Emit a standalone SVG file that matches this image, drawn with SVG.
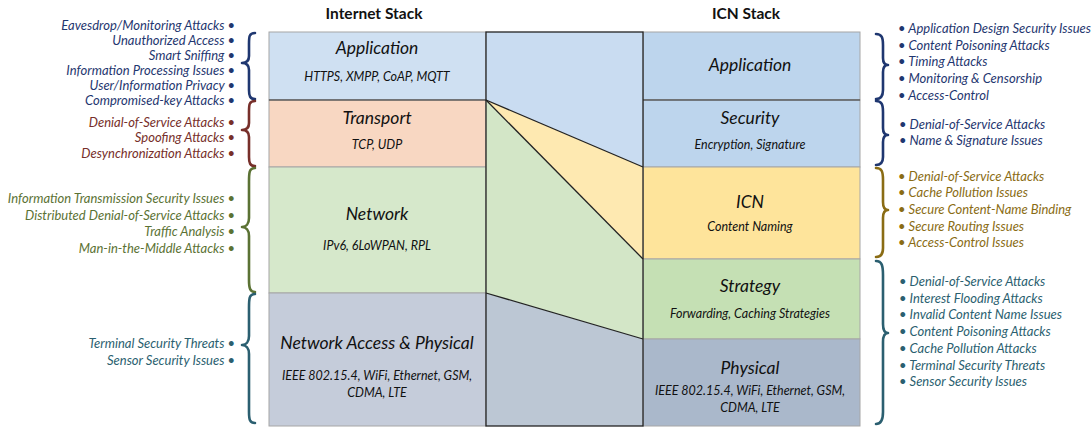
<svg xmlns="http://www.w3.org/2000/svg" width="1092" height="428" viewBox="0 0 1092 428">
<style>
text{font-family:Lato,"Liberation Sans",sans-serif;}
.hd{font-weight:bold;font-size:15.5px;fill:#111;text-anchor:middle;}
.lbl{font-style:italic;font-size:17.5px;fill:#111;text-anchor:middle;}
.sub{font-style:italic;font-size:12.5px;fill:#111;text-anchor:middle;}
.li{font-style:italic;font-size:13px;text-anchor:end;}
.ri{font-style:italic;font-size:13px;text-anchor:start;}
.blue{fill:#1f3770;}
.red{fill:#772f2a;}
.grn{fill:#5b7234;}
.teal{fill:#2b5f70;}
.gold{fill:#8a6c14;}
.box{stroke:#a6a6a6;stroke-width:1;}
.dk{stroke:#222;stroke-width:1.3;fill:none;}
.br{fill:none;stroke-width:2.6;stroke-linecap:round;stroke-linejoin:round;}
</style>

<text class="hd" x="374" y="19">Internet Stack</text>
<text class="hd" x="746" y="19">ICN Stack</text>

<g id="inet-application"><rect class="box" x="269" y="32" width="217" height="68" fill="#cfe0f2"/><text class="lbl" x="377" y="54">Application</text><text class="sub" x="377" y="81">HTTPS, XMPP, CoAP, MQTT</text></g>
<g id="inet-transport"><rect class="box" x="269" y="100" width="217" height="67" fill="#f8d7c2"/><text class="lbl" x="377" y="124">Transport</text><text class="sub" x="377" y="149">TCP, UDP</text></g>
<g id="inet-network"><rect class="box" x="269" y="167" width="217" height="126" fill="#d6e8cb"/><text class="lbl" x="377" y="220">Network</text><text class="sub" x="377" y="250">IPv6, 6LoWPAN, RPL</text></g>
<g id="inet-physical"><rect class="box" x="269" y="293" width="217" height="133" fill="#c5ccda"/><text class="lbl" x="377" y="349">Network Access &amp; Physical</text><text class="sub" x="377" y="380">IEEE 802.15.4, WiFi, Ethernet, GSM,</text><text class="sub" x="377" y="397">CDMA, LTE</text></g>
<line x1="269" y1="100" x2="486" y2="100" stroke="#333" stroke-width="1"/>

<g id="icn-application"><rect class="box" x="643" y="32" width="217" height="68" fill="#bdd5ed"/><text class="lbl" x="750" y="71">Application</text></g>
<g id="icn-security"><rect class="box" x="643" y="100" width="217" height="67" fill="#bdd5ed"/><text class="lbl" x="750" y="124">Security</text><text class="sub" x="750" y="149">Encryption, Signature</text></g>
<g id="icn-icn"><rect class="box" x="643" y="167" width="217" height="92" fill="#fee49b"/><text class="lbl" x="750" y="208">ICN</text><text class="sub" x="750" y="231">Content Naming</text></g>
<g id="icn-strategy"><rect class="box" x="643" y="259" width="217" height="80" fill="#c5e0b4"/><text class="lbl" x="750" y="292">Strategy</text><text class="sub" x="750" y="318">Forwarding, Caching Strategies</text></g>
<g id="icn-physical"><rect class="box" x="643" y="339" width="217" height="87" fill="#aab8cb"/><text class="lbl" x="750" y="374">Physical</text><text class="sub" x="750" y="395">IEEE 802.15.4, WiFi, Ethernet, GSM,</text><text class="sub" x="750" y="412">CDMA, LTE</text></g>
<line x1="643" y1="100" x2="860" y2="100" stroke="#333" stroke-width="1"/>

<g id="connectors">
<polygon points="486,32 643,32 643,167 486,100" fill="#c9dcf1"/>
<polygon points="486,100 643,167 643,259" fill="#fee9b1"/>
<polygon points="486,100 643,259 643,339 486,293" fill="#d3e6c7"/>
<polygon points="486,293 643,339 643,426 486,426" fill="#bcc7d4"/>
<line class="dk" x1="486" y1="100" x2="643" y2="167"/>
<line class="dk" x1="486" y1="100" x2="643" y2="259"/>
<line class="dk" x1="486" y1="293" x2="643" y2="339"/>
<rect class="dk" x="486" y="32" width="157" height="394"/>
</g>

<g id="left-braces">
<path class="br" stroke="#1f3770" d="M255,33 C249,33 249,37 249,44 L249,56 C249,61 246,63 242,63 C246,63 249,65 249,70 L249,90 C249,96 250,99 255,99"/>
<path class="br" stroke="#772f2a" d="M255,101 C249,101 249,105 249,112 L249,123 C249,128 246,130 242,130 C246,130 249,132 249,137 L249,157 C249,163 250,166 255,166"/>
<path class="br" stroke="#5b7234" d="M255,168 C249,168 249,173 249,182 L249,218 C249,224 246,227 242,227 C246,227 249,230 249,236 L249,280 C249,288 250,292 255,292"/>
<path class="br" stroke="#2b5f70" d="M255,294 C249,294 249,299 249,308 L249,336 C249,342 246,345 242,345 C246,345 249,348 249,354 L249,412 C249,420 250,423 255,423"/>
</g>
<g id="right-braces">
<path class="br" stroke="#1f3770" d="M876,34 C882,34 883,38 883,45 L883,58 C883,63 885,65 888,65 C885,65 883,67 883,72 L883,90 C883,96 881,99 876,99"/>
<path class="br" stroke="#1f3770" d="M876,101 C882,101 883,105 883,112 L883,128 C883,133 885,135 888,135 C885,135 883,137 883,142 L883,157 C883,162 881,165 876,165"/>
<path class="br" stroke="#8a6c14" d="M876,168 C882,168 883,172 883,180 L883,202 C883,207 885,210 888,210 C885,210 883,213 883,218 L883,248 C883,254 881,257 876,257"/>
<path class="br" stroke="#2b5f70" d="M876,261 C882,261 883,266 883,275 L883,324 C883,330 885,333 888,333 C885,333 883,336 883,342 L883,412 C883,420 881,424 876,424"/>
</g>

<g id="left-issues">
<text class="li blue" x="235" y="30">Eavesdrop/Monitoring Attacks •</text>
<text class="li blue" x="235" y="45">Unauthorized Access •</text>
<text class="li blue" x="235" y="60">Smart Sniffing •</text>
<text class="li blue" x="235" y="75">Information Processing Issues •</text>
<text class="li blue" x="235" y="90">User/Information Privacy •</text>
<text class="li blue" x="235" y="105">Compromised-key Attacks •</text>
<text class="li red" x="235" y="127">Denial-of-Service Attacks •</text>
<text class="li red" x="235" y="142">Spoofing Attacks •</text>
<text class="li red" x="235" y="158">Desynchronization Attacks •</text>
<text class="li grn" x="235" y="203">Information Transmission Security Issues •</text>
<text class="li grn" x="235" y="219.5">Distributed Denial-of-Service Attacks •</text>
<text class="li grn" x="235" y="236">Traffic Analysis •</text>
<text class="li grn" x="235" y="252.5">Man-in-the-Middle Attacks •</text>
<text class="li teal" x="235" y="348">Terminal Security Threats •</text>
<text class="li teal" x="235" y="365">Sensor Security Issues •</text>
</g>

<g id="right-issues">
<text class="ri blue" x="898" y="33">• Application Design Security Issues</text>
<text class="ri blue" x="898" y="50">• Content Poisoning Attacks</text>
<text class="ri blue" x="898" y="66">• Timing Attacks</text>
<text class="ri blue" x="898" y="83">• Monitoring &amp; Censorship</text>
<text class="ri blue" x="898" y="100">• Access-Control</text>
<text class="ri blue" x="899" y="129">• Denial-of-Service Attacks</text>
<text class="ri blue" x="899" y="145">• Name &amp; Signature Issues</text>
<text class="ri gold" x="898" y="181">• Denial-of-Service Attacks</text>
<text class="ri gold" x="898" y="197">• Cache Pollution Issues</text>
<text class="ri gold" x="898" y="214">• Secure Content-Name Binding</text>
<text class="ri gold" x="898" y="231">• Secure Routing Issues</text>
<text class="ri gold" x="898" y="247">• Access-Control Issues</text>
<text class="ri teal" x="899" y="286">• Denial-of-Service Attacks</text>
<text class="ri teal" x="899" y="302.5">• Interest Flooding Attacks</text>
<text class="ri teal" x="899" y="319">• Invalid Content Name Issues</text>
<text class="ri teal" x="899" y="336">• Content Poisoning Attacks</text>
<text class="ri teal" x="899" y="353">• Cache Pollution Attacks</text>
<text class="ri teal" x="899" y="370">• Terminal Security Threats</text>
<text class="ri teal" x="899" y="386">• Sensor Security Issues</text>
</g>
</svg>
